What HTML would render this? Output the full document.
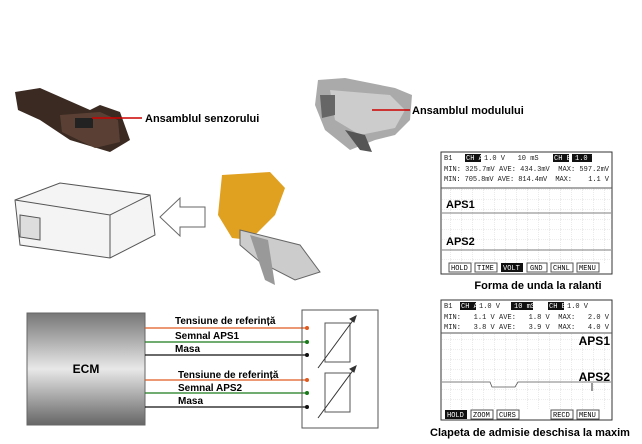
<!DOCTYPE html>
<html><head><meta charset="utf-8"><style>
body{margin:0;background:#fff;width:642px;height:444px;overflow:hidden}
svg{display:block;font-family:"Liberation Sans",Arial,sans-serif}
.m{font-family:"Liberation Mono",monospace;font-size:7px;fill:#222;white-space:pre}
</style></head><body>
<svg width="642" height="444" viewBox="0 0 642 444">
<defs>
<linearGradient id="ecm" x1="0" y1="0" x2="0" y2="1">
<stop offset="0" stop-color="#777"/><stop offset="0.5" stop-color="#e8e8e8"/><stop offset="1" stop-color="#666"/></linearGradient>
<pattern id="grid" width="11" height="10" patternUnits="userSpaceOnUse"><path d="M11 0V10M0 10H11" stroke="#bbb" stroke-width="0.6" fill="none" stroke-dasharray="1,1"/></pattern>
</defs>
<!-- pedal sensor assembly -->
<path d="M15 92 L40 88 L90 110 L100 105 L120 112 L130 140 L110 152 L70 140 L40 120 L18 110Z" fill="#3a2a22"/>
<path d="M60 115 L100 112 L118 120 L120 142 L95 148 L62 132Z" fill="#5a4034"/>
<rect x="75" y="118" width="18" height="10" fill="#222"/>
<line x1="92" y1="118" x2="142" y2="118" stroke="#c00" stroke-width="1.5"/>
<text x="145" y="122" font-size="11" font-weight="bold">Ansamblul senzorului</text>
<!-- module assembly -->
<path d="M318 80 L345 78 L395 88 L412 95 L410 120 L395 135 L375 140 L350 150 L325 130 L315 105Z" fill="#aaa"/>
<path d="M330 90 L390 95 L405 110 L395 128 L360 135 L335 120Z" fill="#ccc"/>
<path d="M345 130 L360 150 L372 152 L365 135Z" fill="#555"/>
<path d="M320 95 L335 95 L335 115 L322 118Z" fill="#666"/>
<line x1="372" y1="110" x2="410" y2="110" stroke="#c00" stroke-width="1.5"/>
<text x="412" y="114" font-size="11" font-weight="bold">Ansamblul modulului</text>
<!-- ECM illustration -->
<path d="M15 200 L60 183 L150 195 L155 235 L110 258 L20 245Z" fill="#f4f4f4" stroke="#555"/>
<path d="M15 200 L110 215 L150 195 M110 215 L110 258" fill="none" stroke="#555"/>
<path d="M20 215 L40 218 L40 240 L20 237Z" fill="#ddd" stroke="#555"/>
<!-- arrow -->
<path d="M205 207 L180 207 L180 198 L160 217 L180 236 L180 227 L205 227Z" fill="#fff" stroke="#666"/>
<!-- yellow pedal -->
<path d="M222 175 L270 172 L285 188 L275 215 L250 240 L232 238 L218 215Z" fill="#e0a020"/>
<path d="M240 230 L300 245 L320 272 L295 280 L260 262 L240 245Z" fill="#ccc" stroke="#666"/>
<path d="M250 235 L265 280 L275 285 L268 240Z" fill="#999"/>
<!-- scope 1 -->
<rect x="441" y="152" width="171" height="122" fill="#fff" stroke="#333"/>
<rect x="441" y="188" width="171" height="75" fill="url(#grid)"/>
<line x1="441" y1="188" x2="612" y2="188" stroke="#555"/>
<rect x="465" y="154" width="16" height="8" fill="#111"/><rect x="553" y="154" width="16" height="8" fill="#111"/><rect x="572" y="154" width="20" height="8" fill="#111"/>
<text class="m" x="444" y="160">B1</text><text class="m" x="466" y="160" style="fill:#fff">CH A</text>
<text class="m" x="484" y="160">1.0 V   10 mS</text>
<text class="m" x="554" y="160" style="fill:#fff">CH B 1.0 V</text>
<text class="m" x="444" y="171" textLength="165" lengthAdjust="spacing">MIN: 325.7mV AVE: 434.3mV  MAX: 597.2mV</text>
<text class="m" x="444" y="181" textLength="165" lengthAdjust="spacing">MIN: 705.8mV AVE: 814.4mV  MAX:    1.1 V</text>
<text x="446" y="208" font-size="11" font-weight="bold">APS1</text>
<line x1="442" y1="213" x2="611" y2="213" stroke="#555" stroke-width="0.8"/>
<text x="446" y="245" font-size="11" font-weight="bold">APS2</text>
<line x1="442" y1="250" x2="611" y2="250" stroke="#555" stroke-width="0.8"/>
<g font-family="Liberation Mono" font-size="7">
<rect x="449" y="263" width="22" height="9" fill="#fff" stroke="#555"/><text x="451" y="270">HOLD</text>
<rect x="475" y="263" width="22" height="9" fill="#fff" stroke="#555"/><text x="477" y="270">TIME</text>
<rect x="501" y="263" width="22" height="9" fill="#111"/><text x="503" y="270" fill="#fff">VOLT</text>
<rect x="527" y="263" width="20" height="9" fill="#fff" stroke="#555"/><text x="530" y="270">GND</text>
<rect x="551" y="263" width="22" height="9" fill="#fff" stroke="#555"/><text x="553" y="270">CHNL</text>
<rect x="577" y="263" width="22" height="9" fill="#fff" stroke="#555"/><text x="579" y="270">MENU</text>
</g>
<text x="538" y="289" font-size="11" font-weight="bold" text-anchor="middle">Forma de unda la ralanti</text>
<!-- scope 2 -->
<rect x="441" y="300" width="171" height="120" fill="#fff" stroke="#333"/>
<rect x="441" y="333" width="171" height="76" fill="url(#grid)"/>
<line x1="441" y1="333" x2="612" y2="333" stroke="#555"/>
<rect x="460" y="302" width="16" height="8" fill="#111"/><rect x="511" y="302" width="22" height="8" fill="#111"/><rect x="548" y="302" width="16" height="8" fill="#111"/>
<text class="m" x="444" y="308">B1</text><text class="m" x="461" y="308" style="fill:#fff">CH A</text><text class="m" x="479" y="308">1.0 V</text><text class="m" x="514" y="308" style="fill:#fff">10 mS</text><text class="m" x="549" y="308" style="fill:#fff">CH B</text><text class="m" x="567" y="308">1.0 V</text>
<text class="m" x="444" y="319" textLength="165" lengthAdjust="spacing">MIN:   1.1 V AVE:   1.8 V  MAX:   2.0 V</text>
<text class="m" x="444" y="329" textLength="165" lengthAdjust="spacing">MIN:   3.8 V AVE:   3.9 V  MAX:   4.0 V</text>
<text x="610" y="345" font-size="12" font-weight="bold" text-anchor="end">APS1</text>
<text x="610" y="381" font-size="12" font-weight="bold" text-anchor="end">APS2</text>
<path d="M442 382 L490 382 L492 387 L515 387 L518 382 L611 382" stroke="#555" fill="none" stroke-width="0.8"/>
<line x1="592" y1="383" x2="592" y2="391" stroke="#333"/>
<g font-family="Liberation Mono" font-size="7">
<rect x="445" y="410" width="22" height="9" fill="#111"/><text x="447" y="417" fill="#fff">HOLD</text>
<rect x="471" y="410" width="22" height="9" fill="#fff" stroke="#555"/><text x="473" y="417">ZOOM</text>
<rect x="497" y="410" width="22" height="9" fill="#fff" stroke="#555"/><text x="499" y="417">CURS</text>
<rect x="551" y="410" width="22" height="9" fill="#fff" stroke="#555"/><text x="553" y="417">RECD</text>
<rect x="577" y="410" width="22" height="9" fill="#fff" stroke="#555"/><text x="579" y="417">MENU</text>
</g>
<text x="530" y="436" font-size="11" font-weight="bold" text-anchor="middle">Clapeta de admisie deschisa la maxim</text>
<!-- ECM wiring -->
<rect x="27" y="313" width="118" height="112" fill="url(#ecm)" stroke="#666"/>
<text x="86" y="373" font-size="12" font-weight="bold" text-anchor="middle">ECM</text>
<g stroke-width="1.3">
<line x1="145" y1="328" x2="307" y2="328" stroke="#e05a20"/><circle cx="307" cy="328" r="2" fill="#e05a20"/>
<line x1="145" y1="342" x2="307" y2="342" stroke="#1a7a1a"/><circle cx="307" cy="342" r="2" fill="#1a7a1a"/>
<line x1="145" y1="355" x2="307" y2="355" stroke="#111"/><circle cx="307" cy="355" r="2" fill="#111"/>
<line x1="145" y1="380" x2="307" y2="380" stroke="#e05a20"/><circle cx="307" cy="380" r="2" fill="#e05a20"/>
<line x1="145" y1="393" x2="307" y2="393" stroke="#1a7a1a"/><circle cx="307" cy="393" r="2" fill="#1a7a1a"/>
<line x1="145" y1="407" x2="307" y2="407" stroke="#111"/><circle cx="307" cy="407" r="2" fill="#111"/>
</g>
<g font-size="10" font-weight="bold">
<text x="175" y="324">Tensiune de referință</text>
<text x="175" y="339">Semnal APS1</text>
<text x="175" y="352">Masa</text>
<text x="178" y="378">Tensiune de referință</text>
<text x="178" y="391">Semnal APS2</text>
<text x="178" y="404">Masa</text>
</g>
<rect x="302" y="310" width="76" height="118" fill="none" stroke="#555"/>
<rect x="325" y="323" width="25" height="39" fill="none" stroke="#555"/>
<rect x="325" y="373" width="25" height="39" fill="none" stroke="#555"/>
<g stroke="#333" fill="#333">
<line x1="318" y1="368" x2="354" y2="319"/><path d="M356 316 L350 319 L354 322Z"/>
<line x1="318" y1="418" x2="354" y2="369"/><path d="M356 366 L350 369 L354 372Z"/>
</g>
</svg>
</body></html>
